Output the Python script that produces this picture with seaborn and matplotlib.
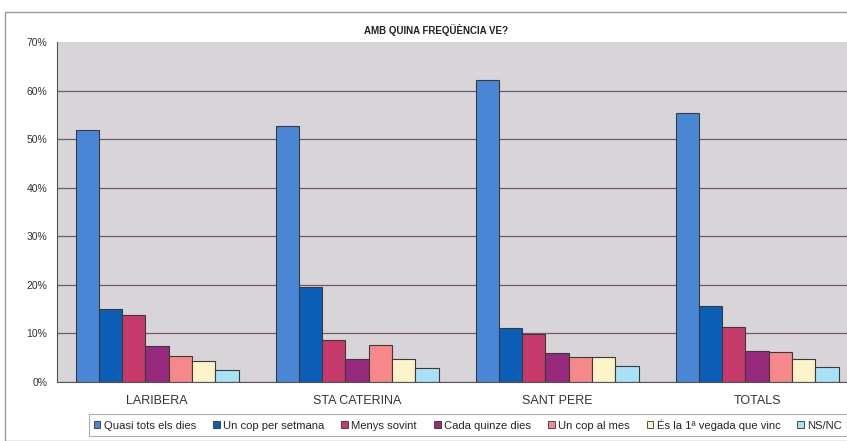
import numpy as np
import pandas as pd
import matplotlib
matplotlib.use('Agg')
import matplotlib.pyplot as plt
import seaborn as sns
from matplotlib.patches import Rectangle

# dades llegides del gràfic (%)
zones = ['LARIBERA', 'STA CATERINA', 'SANT PERE', 'TOTALS']
respostes = ['Quasi tots els dies', 'Un cop per setmana', 'Menys sovint',
             'Cada quinze dies', 'Un cop al mes', 'És la 1ª vegada que vinc', 'NS/NC']
quasi_tots = [51.9, 52.7, 62.2, 55.4]
setmana = [15.0, 19.5, 11.2, 15.7]
menys_sovint = [13.7, 8.7, 9.9, 11.4]
quinze_dies = [7.5, 4.8, 6.0, 6.4]
cop_al_mes = [5.4, 7.7, 5.1, 6.2]
primera_vegada = [4.3, 4.7, 5.1, 4.7]
nsnc = [2.4, 2.8, 3.2, 3.1]
colors = ['#4a86d6', '#0b5db5', '#c63a6c', '#982a7e', '#f7898a', '#fdf3c8', '#a9e2f6']

series = [quasi_tots, setmana, menys_sovint, quinze_dies, cop_al_mes, primera_vegada, nsnc]
rows = []
for resp, vals in zip(respostes, series):
    for z, v in zip(zones, vals):
        rows.append({'zona': z, 'resposta': resp, 'valor': v})
df = pd.DataFrame(rows)

sns.set_style('white')
plt.rcParams['font.family'] = ['Liberation Sans', 'DejaVu Sans']

fig = plt.figure(figsize=(8.47, 4.41), dpi=100)
fig.patch.set_facecolor('white')
# marc exterior del gràfic
fig.patches.append(Rectangle((5 / 847, 0.0), 1.0, (441 - 12) / 441, transform=fig.transFigure,
                             fill=False, edgecolor='#9a9a9a', lw=1.0))

ax = fig.add_axes([57 / 847, 59 / 441, 800 / 847, 340 / 441])
ax.set_facecolor('#d8d5d9')
sns.barplot(data=df, x='zona', y='valor', hue='resposta', order=zones, hue_order=respostes,
            palette=colors, width=0.815, edgecolor='#3a3a3a', linewidth=0.8,
            saturation=1, ax=ax, legend=False)

ax.set_ylim(0, 70)
ax.set_xlim(-0.5, 3.5)
ax.set_yticks(range(0, 71, 10))
ax.set_yticklabels([f'{t}%' for t in range(0, 71, 10)], fontsize=7.5, color='#333333')
ax.yaxis.grid(True, color='#74566a', lw=0.9)
ax.get_ygridlines()[-1].set_visible(False)
ax.set_axisbelow(True)
ax.tick_params(axis='y', length=3, color='#555555', pad=4)
ax.set_xticks(range(len(zones)))
ax.set_xticklabels(zones, fontsize=9, color='#333333')
ax.tick_params(axis='x', length=0, pad=9)
ax.set_xticks([0.5, 1.5, 2.5], minor=True)
ax.tick_params(axis='x', which='minor', length=4, color='#666666')
ax.set_xlabel('')
ax.set_ylabel('')
for s in ['top', 'right']:
    ax.spines[s].set_visible(False)
ax.spines['left'].set_color('#555555')
ax.spines['bottom'].set_color('#555555')

fig.text(0.515, 1 - 30 / 441, 'AMB QUINA FREQÜÈNCIA VE?', ha='center', va='center',
         fontsize=7, fontweight='bold', color='#222222')

handles = [Rectangle((0, 0), 1, 1, facecolor=c, edgecolor='#333333', lw=0.6) for c in colors]
leg = fig.legend(handles, respostes, loc='center left', bbox_to_anchor=(83 / 847, 16 / 441),
                 ncol=7, fontsize=8.1, frameon=True, fancybox=False, handlelength=0.6,
                 handleheight=0.6, handletextpad=0.3, columnspacing=1.5, borderpad=0.45)
leg.get_frame().set_edgecolor('#999999')
leg.get_frame().set_linewidth(0.8)

fig.savefig('out.png', dpi=100)
